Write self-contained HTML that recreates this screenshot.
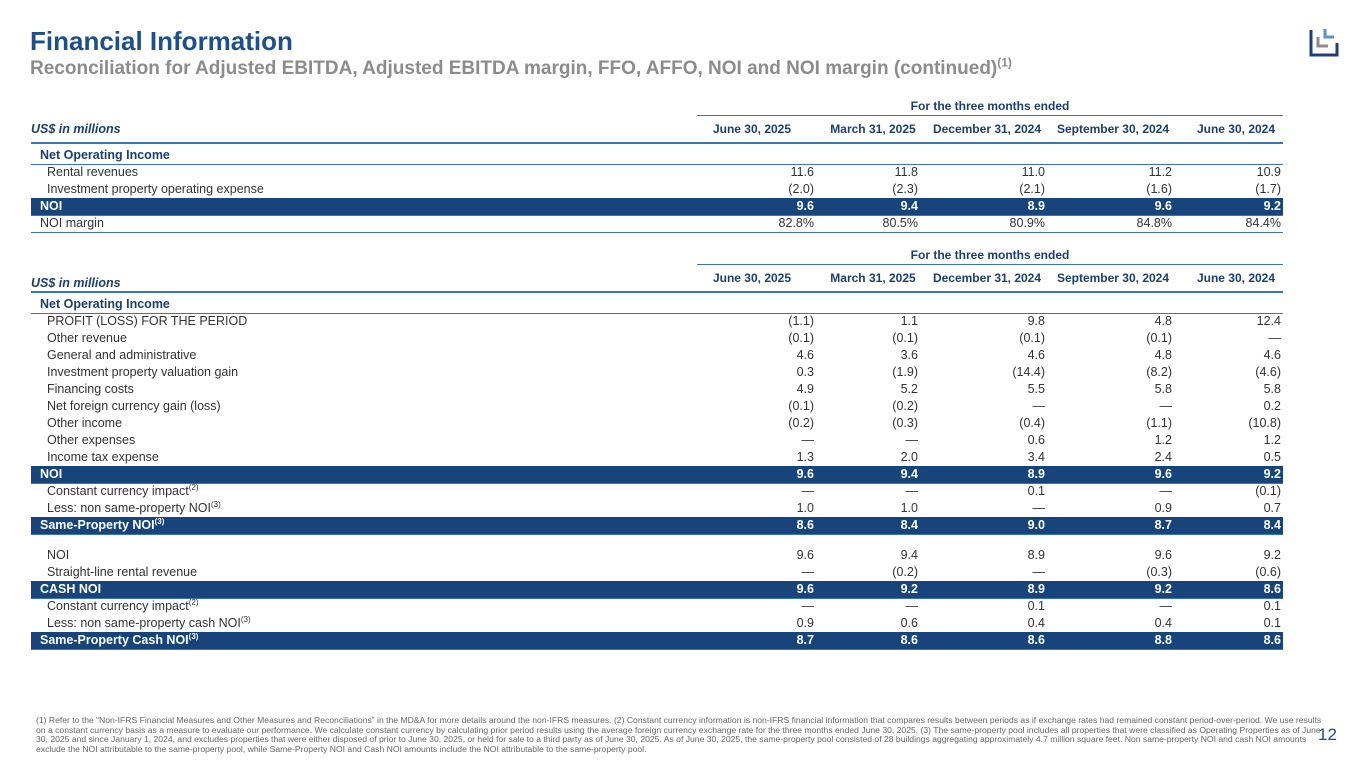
<!DOCTYPE html>
<html><head><meta charset="utf-8">
<style>
body{margin:0;width:1365px;height:768px;overflow:hidden;background:#fff;font-family:"Liberation Sans",Arial,sans-serif;position:relative;color:#333}
.abs{position:absolute;white-space:nowrap}
#title{left:30px;top:26px;font-size:26px;font-weight:bold;color:#1d4f8a}
#subtitle{left:30px;top:58px;font-size:19px;font-weight:bold;color:#8c8c8c}
#subtitle sup{font-size:12px}
.t{position:absolute;font-size:12.5px;line-height:17px;height:17px}
.bar{position:absolute;left:31px;width:1252px;height:17px;background:#17457b}
.ln{position:absolute;left:31px;width:1252px;height:1px;background:#3b75b0}
.hl{position:absolute;left:31px;width:1252px;height:2px;background:#3b75b0}
.v{position:absolute;font-size:12.5px;line-height:17px;text-align:right;width:100px}
.ch{position:absolute;font-size:12px;font-weight:bold;color:#1c3f6e;text-align:center;width:130px;line-height:17px}
sup{font-size:8px;line-height:0}
#footer{left:36px;top:716px;font-size:8.6px;line-height:9.7px;color:#666}
#pg{left:1318px;top:725px;font-size:17px;color:#1d4f8a}
</style></head><body>
<div class="abs" id="title">Financial Information</div>
<div class="abs" id="subtitle">Reconciliation for Adjusted EBITDA, Adjusted EBITDA margin, FFO, AFFO, NOI and NOI margin (continued)<sup>(1)</sup></div>
<svg class="abs" style="left:1308px;top:26px" width="32" height="32">
<path d="M3 4 V29 H29 V17" fill="none" stroke="#1d3f7a" stroke-width="3"/>
<path d="M10 11 V20 H20" fill="none" stroke="#8c8c8c" stroke-width="3"/>
<path d="M17 3 V11 H26" fill="none" stroke="#5a8fd0" stroke-width="3"/>
</svg>
<div id="tables"></div>
<div class="abs" id="footer">(1) Refer to the “Non-IFRS Financial Measures and Other Measures and Reconciliations” in the MD&amp;A for more details around the non-IFRS measures. (2) Constant currency information is non-IFRS financial information that compares results between periods as if exchange rates had remained constant period-over-period. We use results<br>on a constant currency basis as a measure to evaluate our performance. We calculate constant currency by calculating prior period results using the average foreign currency exchange rate for the three months ended June 30, 2025. (3) The same-property pool includes all properties that were classified as Operating Properties as of June<br>30, 2025 and since January 1, 2024, and excludes properties that were either disposed of prior to June 30, 2025, or held for sale to a third party as of June 30, 2025. As of June 30, 2025, the same-property pool consisted of 28 buildings aggregating approximately 4.7 million square feet. Non same-property NOI and cash NOI amounts<br>exclude the NOI attributable to the same-property pool, while Same-Property NOI and Cash NOI amounts include the NOI attributable to the same-property pool.</div>
<div class="abs" id="pg">12</div>
<script>
const periods=["June 30, 2025","March 31, 2025","December 31, 2024","September 30, 2024","June 30, 2024"];
const table1Rows=[
["Net Operating Income",null,"h"],
["Rental revenues",["11.6","11.8","11.0","11.2","10.9"],"n"],
["Investment property operating expense",["(2.0)","(2.3)","(2.1)","(1.6)","(1.7)"],"n"],
["NOI",["9.6","9.4","8.9","9.6","9.2"],"b"],
["NOI margin",["82.8%","80.5%","80.9%","84.8%","84.4%"],"p"]];
const table2Rows=[
["Net Operating Income",null,"h"],
["PROFIT (LOSS) FOR THE PERIOD",["(1.1)","1.1","9.8","4.8","12.4"],"n"],
["Other revenue",["(0.1)","(0.1)","(0.1)","(0.1)","—"],"n"],
["General and administrative",["4.6","3.6","4.6","4.8","4.6"],"n"],
["Investment property valuation gain",["0.3","(1.9)","(14.4)","(8.2)","(4.6)"],"n"],
["Financing costs",["4.9","5.2","5.5","5.8","5.8"],"n"],
["Net foreign currency gain (loss)",["(0.1)","(0.2)","—","—","0.2"],"n"],
["Other income",["(0.2)","(0.3)","(0.4)","(1.1)","(10.8)"],"n"],
["Other expenses",["—","—","0.6","1.2","1.2"],"n"],
["Income tax expense",["1.3","2.0","3.4","2.4","0.5"],"n"],
["NOI",["9.6","9.4","8.9","9.6","9.2"],"b"],
["Constant currency impact<sup>(2)</sup>",["—","—","0.1","—","(0.1)"],"n"],
["Less: non same-property NOI<sup>(3)</sup>",["1.0","1.0","—","0.9","0.7"],"n"],
["Same-Property NOI<sup>(3)</sup>",["8.6","8.4","9.0","8.7","8.4"],"b"],
["",null,"s"],
["NOI",["9.6","9.4","8.9","9.6","9.2"],"n"],
["Straight-line rental revenue",["—","(0.2)","—","(0.3)","(0.6)"],"n"],
["CASH NOI",["9.6","9.2","8.9","9.2","8.6"],"b"],
["Constant currency impact<sup>(2)</sup>",["—","—","0.1","—","0.1"],"n"],
["Less: non same-property cash NOI<sup>(3)</sup>",["0.9","0.6","0.4","0.4","0.1"],"n"],
["Same-Property Cash NOI<sup>(3)</sup>",["8.7","8.6","8.6","8.8","8.6"],"b"]];
const colRight=[814,918,1045,1172,1281];
const colCenter=[752,873,987,1113,1236];
const root=document.getElementById('tables');
function mk(cls,css,html){const d=document.createElement('div');d.className=cls;d.style.cssText=css;if(html!==undefined)d.innerHTML=html;root.appendChild(d);return d;}
function build(rows,top,idx,unitTop){
  let t=mk('ch','left:697px;width:586px;top:'+top+'px','For the three months ended');
  
  
  let l=mk('ln','left:697px;width:586px;top:'+(top+17)+'px');
  
  
  let u=mk('t','left:31px;top:'+(top+unitTop)+'px;font-style:italic;font-weight:bold;color:#1c3f6e','US$ in millions');
  
  
  periods.forEach((p,i)=>{
    let c=mk('ch','left:'+(colCenter[i]-65)+'px;top:'+(top+23)+'px',p);
    
    
  });
  let h=mk('hl','top:'+(top+44)+'px');
  
  
  let y=top+49;
  rows.forEach((r,ri)=>{
    const [lab,vals,type]=r;
    let color='#333',fw='normal',x=47;
    if(type==='b'){let b=mk('bar','top:'+y+'px');color='#fff';fw='bold';x=40;}
    if(type==='h'){color='#1c3f6e';fw='bold';x=40;}
    if(type==='p'){x=40;}
    if(type==='s'){y+=13;return;}
    let L=mk('t','left:'+x+'px;top:'+y+'px;color:'+color+';font-weight:'+fw,lab);
    
    
    if(vals)vals.forEach((v,i)=>{
      let V=mk('v','left:'+(colRight[i]-100)+'px;top:'+y+'px;color:'+color+';font-weight:'+fw,v);
      
      
    });
    if(type==='h'||type==='p'||type==='b'){let k=mk('ln','top:'+(y+17)+'px');}
    y+=17;
  });
}
build(table1Rows,98,1,23);
build(table2Rows,247,2,28);
</script>
</body></html>
